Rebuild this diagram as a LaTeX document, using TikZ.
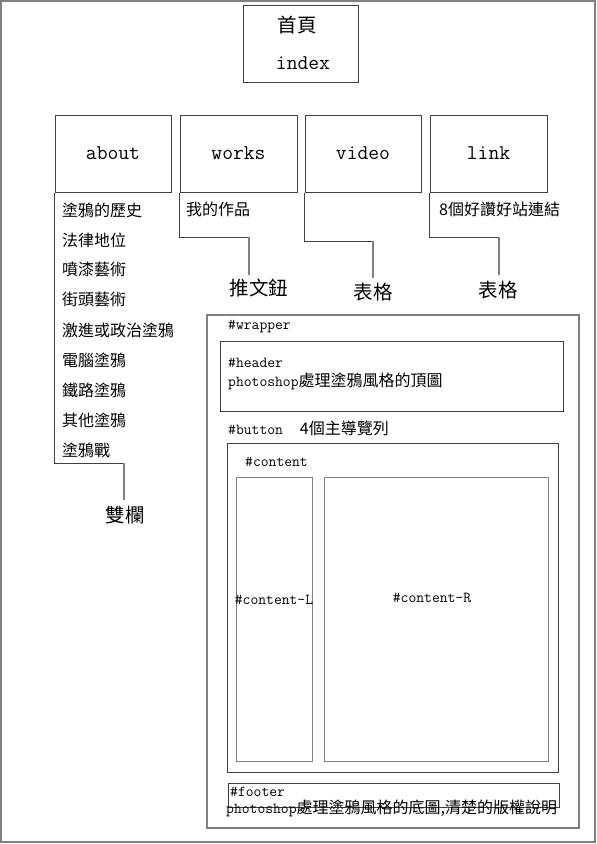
\documentclass[tikz,border=0pt]{standalone}
\usepackage{fontspec}
\newfontfamily\cjk{Noto Sans CJK TC}
\newcommand\cj[1]{{\fontsize{16}{16}\selectfont\cjk #1}}
\tikzset{
  box/.style={draw=black!75, line width=1pt, inner sep=0pt},
  gbox/.style={draw=black!50, line width=1.6pt, inner sep=0pt},
  small/.style={font=\fontsize{15.2}{16}\selectfont\ttfamily, inner sep=0pt, anchor=west},
  item/.style={font=\fontsize{16}{16}\selectfont\cjk, inner sep=0pt, anchor=west},
  big/.style={font=\fontsize{21}{22}\selectfont\ttfamily},
  bigcj/.style={font=\fontsize{19.5}{20}\selectfont\cjk, inner sep=0pt},
  conn/.style={draw=black!75, line width=1pt},
  drop/.style={draw=black!50, line width=2pt},
}
\begin{document}
\begin{tikzpicture}[x=1pt,y=-1pt]
\useasboundingbox (0,0) rectangle (597,844);
\draw[black!50, line width=2pt] (1,1) rectangle (595,842);

% index
\node[box, minimum width=115pt, minimum height=77pt] (index) at (300.5,43.5) {};
\node[bigcj] (indexcj) at (297,25) {首頁};
\node[big, inner sep=0pt] (indextx) at (303,63) {index};

% menu boxes
\node[box, big, minimum width=116pt, minimum height=77pt] (about) at (113,153.5) {about};
\node[box, big, minimum width=117pt, minimum height=77pt] (works) at (238.5,153.5) {works};
\node[box, big, minimum width=116pt, minimum height=77pt] (video) at (363,153.5) {video};
\node[box, big, minimum width=117pt, minimum height=77pt] (link) at (488.5,153.5) {link};

% about list
\node[item] (i1) at (62,210) {塗鴉的歷史};
\node[item] (i2) at (62,240) {法律地位};
\node[item] (i3) at (62,270) {噴漆藝術};
\node[item] (i4) at (62,300) {街頭藝術};
\node[item] (i5) at (62,330) {激進或政治塗鴉};
\node[item] (i6) at (62,360) {電腦塗鴉};
\node[item] (i7) at (62,390) {鐵路塗鴉};
\node[item] (i8) at (62,420) {其他塗鴉};
\node[item] (i9) at (62,450) {塗鴉戰};
\node[item] (w1) at (186,209) {我的作品};
\node[item] (l1) at (439,209) {8個好讚好站連結};

% connectors
\coordinate (a1) at (124,463);
\coordinate (a2) at (124,500);
\node[bigcj] (labA) at (125,515) {雙欄};
\draw[conn] (about.south west) |- (a1);
\draw[drop] (a1) -- (a2);

\coordinate (b1) at (249,237);
\coordinate (b2) at (249,275);
\node[bigcj] (labB) at (259,288) {推文鈕};
\draw[conn] (works.south west) |- (b1);
\draw[drop] (b1) -- (b2);

\coordinate (c1) at (373,241);
\coordinate (c2) at (373,278);
\node[bigcj] (labC) at (373,292) {表格};
\draw[conn] (video.south west) |- (c1);
\draw[drop] (c1) -- (c2);

\coordinate (d1) at (499,237);
\coordinate (d2) at (499,275);
\node[bigcj] (labD) at (498,290) {表格};
\draw[conn] (link.south west) |- (d1);
\draw[drop] (d1) -- (d2);

% wrapper
\node[gbox, minimum width=372pt, minimum height=513pt, anchor=north west] (wrapper) at (206,314) {};
\node[small] (twrap) at (228,327) {\#wrapper};
\node[box, minimum width=343pt, minimum height=70pt, anchor=north west] (header) at (220,341) {};
\node[small] (thead) at (228,363) {\#header};
\node[small] (thead2) at (228,381) {photoshop\cj{處理塗鴉風格的頂圖}};
\node[small] (tbtn) at (228,428) {\#button\hspace{17pt}\cj{4個主導覽列}};
\node[box, minimum width=331pt, minimum height=329pt, anchor=north west] (content) at (227,443) {};
\node[small] (tcont) at (245,462) {\#content};
\node[gbox, line width=1.3pt, minimum width=76pt, minimum height=284pt, anchor=north west] (contL) at (236,477) {};
\node[gbox, line width=1.3pt, minimum width=224pt, minimum height=284pt, anchor=north west] (contR) at (324,477) {};
\node[small, anchor=center] (tcL) at (274,600) {\#content-L};
\node[small, anchor=center] (tcR) at (432,598) {\#content-R};
\node[box, minimum width=331pt, minimum height=24pt, anchor=north west] (footer) at (228,783) {};
\node[small] (tfoot) at (230,792) {\#footer};
\node[small] (tfoot2) at (226,808) {photoshop\cj{處理塗鴉風格的底圖,清楚的版權說明}};
\end{tikzpicture}
\end{document}
